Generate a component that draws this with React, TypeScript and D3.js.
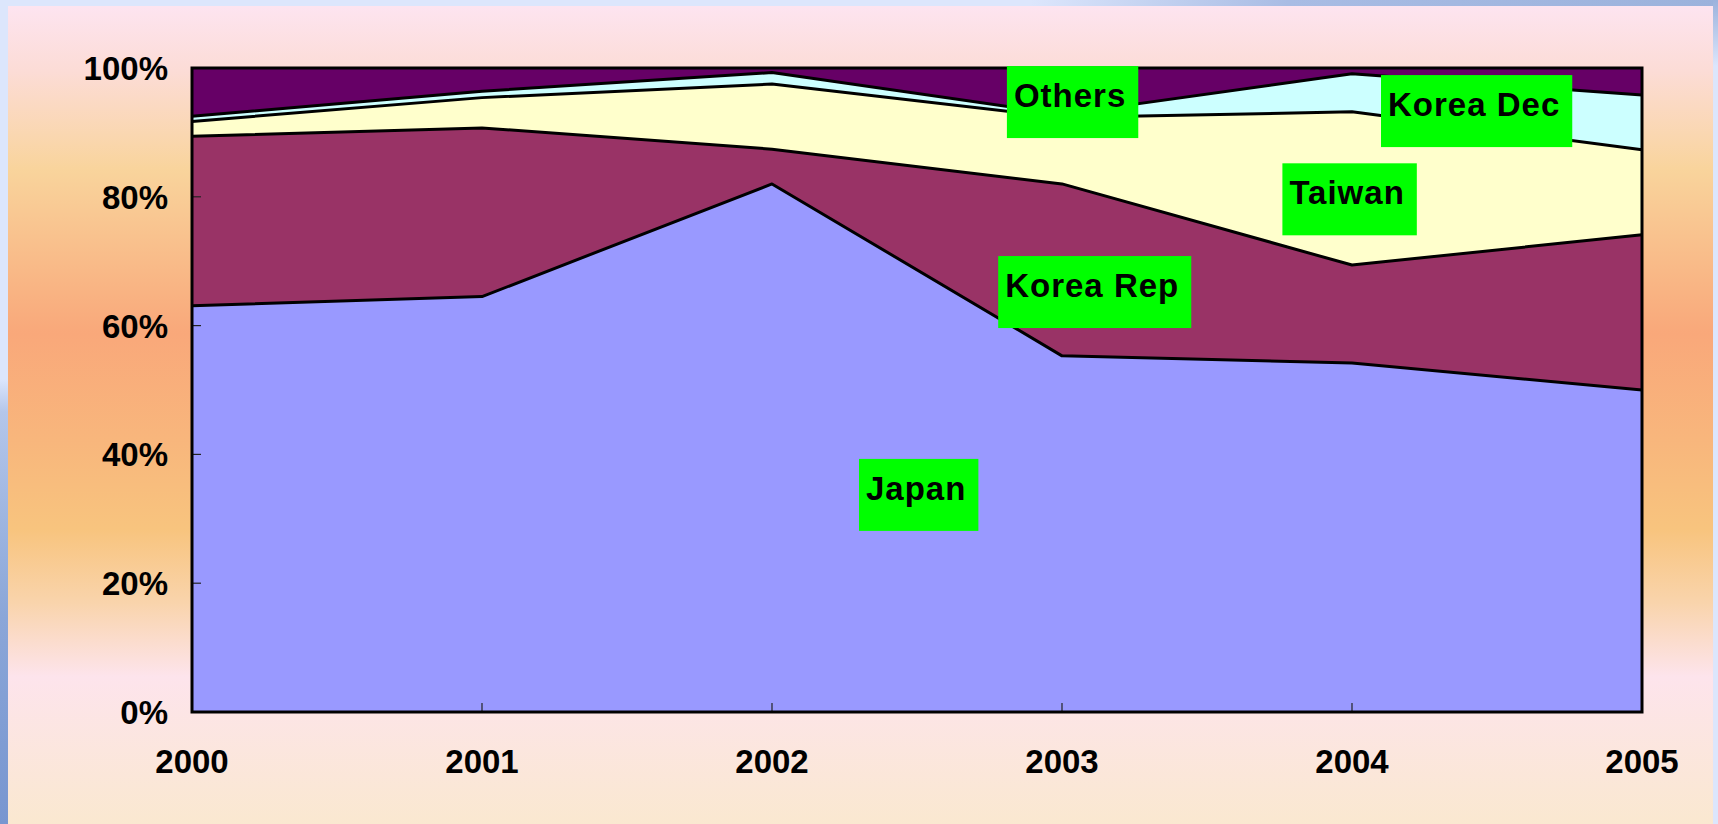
import { useEffect, useRef } from 'react';
import * as d3 from 'd3';

// shares of imports by source, percent of total
const YEARS = [2000, 2001, 2002, 2003, 2004, 2005];
const SERIES = ['Japan', 'Korea Rep', 'Taiwan', 'Korea Dec', 'Others'];
const JAPAN = [63.1, 64.5, 82.0, 55.3, 54.2, 50.0];
const KOREA_REP = [26.3, 26.2, 5.4, 26.7, 15.2, 24.1];
const TAIWAN = [2.3, 4.7, 10.1, 10.3, 23.8, 13.2];
const KOREA_DEC = [0.8, 1.0, 1.8, 0.5, 5.9, 8.5];
const OTHERS = [7.5, 3.6, 0.7, 7.2, 0.9, 4.2];
const Y_TICKS = [0, 20, 40, 60, 80, 100];

// label boxes, anchored in data space (year, percent) at their top-left corner
const LABELS = [
  { text: 'Others', year: 2002.81, pct: 100.3 },
  { text: 'Korea Dec', year: 2004.1, pct: 98.9 },
  { text: 'Taiwan', year: 2003.76, pct: 85.2 },
  { text: 'Korea Rep', year: 2002.78, pct: 70.8 },
  { text: 'Japan', year: 2002.3, pct: 39.3 },
];

const COLORS = ['#9999ff', '#993366', '#ffffcc', '#ccffff', '#660066'];

const W = 1718;
const H = 824;

const App = () => {
  const svgRef = useRef(null);

  useEffect(() => {
    document.body.style.margin = '0';
    document.body.style.overflow = 'hidden';

    const svg = d3.select(svgRef.current);
    svg.selectAll('*').remove();

    const margin = { top: 68, right: 76, bottom: 112, left: 192 };
    const width = W - margin.left - margin.right;
    const height = H - margin.top - margin.bottom;
    const font = 'Liberation Sans, Arial, sans-serif';

    const defs = svg.append('defs');

    const panelGrad = defs.append('linearGradient')
      .attr('id', 'panel-grad')
      .attr('x1', 0).attr('y1', 0).attr('x2', 0).attr('y2', 1);
    [
      [0, '#fde4f0'], [0.08, '#fcdcd6'], [0.2, '#f9d49c'], [0.4, '#f9a87a'],
      [0.53, '#f8b67c'], [0.64, '#f8c47e'], [0.73, '#f9d4ac'], [0.82, '#fde4ec'],
      [1, '#fae8d0']
    ].forEach(([o, c]) => panelGrad.append('stop').attr('offset', o).attr('stop-color', c));

    const leftGrad = defs.append('linearGradient')
      .attr('id', 'left-grad')
      .attr('x1', 0).attr('y1', 0).attr('x2', 0).attr('y2', 1);
    [[0, '#dce6fc'], [0.46, '#dce6fc'], [0.5, '#b4c6ea'], [0.75, '#8aa6d8'], [1, '#7896d0']]
      .forEach(([o, c]) => leftGrad.append('stop').attr('offset', o).attr('stop-color', c));

    const topGrad = defs.append('linearGradient')
      .attr('id', 'top-grad')
      .attr('x1', 0).attr('y1', 0).attr('x2', 1).attr('y2', 0);
    [[0, '#dce6fc'], [0.6, '#dce6fc'], [0.75, '#a8bce4'], [1, '#9bb2dc']]
      .forEach(([o, c]) => topGrad.append('stop').attr('offset', o).attr('stop-color', c));

    const rightGrad = defs.append('linearGradient')
      .attr('id', 'right-grad')
      .attr('x1', 0).attr('y1', 0).attr('x2', 0).attr('y2', 1);
    [[0, '#9bb2dc'], [0.08, '#dce6fc'], [1, '#dce6fc']]
      .forEach(([o, c]) => rightGrad.append('stop').attr('offset', o).attr('stop-color', c));

    // background
    svg.append('rect').attr('width', W).attr('height', H).attr('fill', '#dce6fc');
    svg.append('rect').attr('width', W).attr('height', 8).attr('fill', 'url(#top-grad)');
    svg.append('rect').attr('width', 8).attr('height', H).attr('fill', 'url(#left-grad)');
    svg.append('rect').attr('x', 1713).attr('width', 5).attr('height', H).attr('fill', 'url(#right-grad)');
    svg.append('rect')
      .attr('x', 8).attr('y', 6)
      .attr('width', 1705).attr('height', H - 6)
      .attr('fill', 'url(#panel-grad)');

    const g = svg.append('g').attr('transform', `translate(${margin.left},${margin.top})`);

    const table = YEARS.map((year, i) => ({
      year,
      Japan: JAPAN[i],
      'Korea Rep': KOREA_REP[i],
      Taiwan: TAIWAN[i],
      'Korea Dec': KOREA_DEC[i],
      Others: OTHERS[i],
    }));

    const stacked = d3.stack().keys(SERIES).offset(d3.stackOffsetExpand)(table);

    const x = d3.scaleLinear().domain([2000, 2005]).range([0, width]);
    const y = d3.scaleLinear().domain([0, 100]).range([height, 0]);

    const area = d3.area()
      .x(d => x(d.data.year))
      .y0(d => y(d[0] * 100))
      .y1(d => y(d[1] * 100));

    const line = d3.line()
      .x(d => x(d.data.year))
      .y(d => y(d[1] * 100));

    stacked.forEach((layer, i) => {
      g.append('path')
        .datum(layer)
        .attr('fill', COLORS[i])
        .attr('d', area);
    });

    stacked.forEach((layer, i) => {
      if (i === stacked.length - 1) return;
      g.append('path')
        .datum(layer)
        .attr('fill', 'none')
        .attr('stroke', '#000')
        .attr('stroke-width', 3)
        .attr('stroke-linejoin', 'round')
        .attr('d', line);
    });

    // inner ticks
    g.selectAll('.ytick')
      .data(Y_TICKS.slice(1, -1))
      .enter()
      .append('line')
      .attr('x1', 0).attr('x2', 9)
      .attr('y1', d => y(d)).attr('y2', d => y(d))
      .attr('stroke', '#222')
      .attr('stroke-width', 1.2);

    g.selectAll('.xtick')
      .data(YEARS.slice(1, -1))
      .enter()
      .append('line')
      .attr('x1', d => x(d)).attr('x2', d => x(d))
      .attr('y1', height).attr('y2', height - 9)
      .attr('stroke', '#222')
      .attr('stroke-width', 1.2);

    // frame
    g.append('rect')
      .attr('width', width).attr('height', height)
      .attr('fill', 'none')
      .attr('stroke', '#000')
      .attr('stroke-width', 3);

    // axis labels
    g.selectAll('.ylab')
      .data(Y_TICKS)
      .enter()
      .append('text')
      .attr('x', -24)
      .attr('y', d => y(d) + 12)
      .attr('text-anchor', 'end')
      .attr('font-family', font)
      .attr('font-weight', 'bold')
      .attr('font-size', '33px')
      .attr('fill', '#000')
      .text(d => `${d}%`);

    g.selectAll('.xlab')
      .data(YEARS)
      .enter()
      .append('text')
      .attr('x', d => x(d))
      .attr('y', height + 61)
      .attr('text-anchor', 'middle')
      .attr('font-family', font)
      .attr('font-weight', 'bold')
      .attr('font-size', '33px')
      .attr('fill', '#000')
      .text(d => d);

    // green label boxes
    LABELS.forEach(lab => {
      const bx = x(lab.year);
      const by = y(lab.pct);
      const box = g.append('g');
      const rect = box.append('rect').attr('fill', '#00ff00');
      const txt = box.append('text')
        .attr('x', bx + 7)
        .attr('y', by + 41)
        .attr('font-family', font)
        .attr('font-weight', 'bold')
        .attr('font-size', '33px')
        .attr('letter-spacing', '1px')
        .attr('fill', '#000')
        .text(lab.text);
      const tw = txt.node().getComputedTextLength();
      rect.attr('x', bx).attr('y', by)
        .attr('width', tw + 19)
        .attr('height', 72);
    });
  }, []);

  return (
    <svg
      ref={svgRef}
      width={W}
      height={H}
      style={{ position: 'absolute', left: 0, top: 0, display: 'block' }}
    />
  );
};

export default App;
